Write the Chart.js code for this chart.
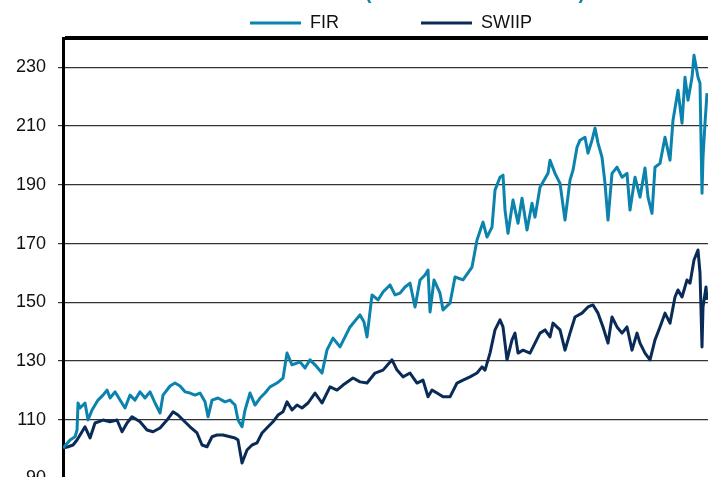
<!DOCTYPE html>
<html>
<head>
<meta charset="utf-8">
<script src="https://cdn.jsdelivr.net/npm/chart.js@4.4.1/dist/chart.umd.min.js"></script>
<style>
  html, body { margin: 0; padding: 0; background: #fff; width: 708px; height: 477px; overflow: hidden; position: relative; }
  #wrap { position: absolute; left: 0; top: -68px; width: 778px; height: 628px; }
  #title { position: absolute; left: 475px; top: -17.7px; transform: translateX(-50%); white-space: nowrap;
           font: bold 19.5px "Liberation Sans", Arial, sans-serif; line-height: 20px; color: #0b83ad; z-index: 2; }
</style>
</head>
<body>
<div id="title">(rebased to 100 at start)</div>
<div id="wrap"><canvas id="c"></canvas></div>
<script>
// Time index (trading periods since start) and index values
const seriesNames = ['FIR', 'SWIIP'];
const yTicks = [70, 90, 110, 130, 150, 170, 190, 210, 230, 240];

const firT = [0,7,12,14,15,17,22,25,29,35,40,44,47,52,57,62,67,72,77,82,87,92,97,100,107,112,117,122,127,132,
  137,142,145,149,155,162,167,172,175,179,182,187,192,197,202,207,214,220,224,229,237,242,247,252,259,264,270,277,287,297,
  301,304,309,315,320,327,332,337,342,347,352,357,362,365,367,371,377,380,387,392,400,409,414,420,424,429,432,437,440,442,
  445,450,455,459,464,469,472,477,485,487,492,497,502,507,510,514,517,522,525,529,532,535,539,542,545,549,554,559,564,567,
  572,577,582,585,589,592,597,602,607,610,615,619,622,625,629,631,635,637,639,640,642,644];
const firV = [100.4,103.1,104.2,106.5,115.7,114.0,115.7,109.9,113.3,116.7,118.4,120.1,117.4,119.5,116.7,114.0,118.4,116.7,119.5,117.4,
  119.5,115.7,112.3,118.4,121.5,122.5,121.5,119.5,119.1,118.4,119.1,116.1,111.0,116.7,117.4,116.1,116.7,115.0,109.9,107.6,
  113.3,119.1,115.0,117.4,119.1,121.2,122.5,124.2,132.7,128.7,129.7,127.6,130.4,128.7,125.9,133.8,137.8,134.8,141.6,145.7,
  143.3,138.2,152.5,150.8,153.5,155.9,152.5,153.1,155.2,156.5,148.4,157.6,159.3,161.0,146.7,157.6,153.1,147.4,149.7,158.6,
  157.6,162.0,171.2,177.3,172.2,175.6,188.2,192.6,193.3,181.4,173.5,184.8,176.9,185.4,174.6,183.7,179.0,189.2,193.9,198.4,
  193.9,190.5,178.0,191.6,195.0,202.8,205.2,206.2,200.8,205.2,209.3,204.2,199.4,190.5,178.0,193.9,196.0,192.6,193.9,181.4,
  192.6,185.8,195.7,185.8,180.3,196.0,197.3,206.2,198.4,212.0,222.2,211.0,226.6,218.8,226.6,234.1,226.6,224.6,187.1,199.4,
  211.0,221.2];

const swiT = [0,5,10,14,22,27,32,40,47,54,59,64,69,77,84,90,97,104,110,115,120,127,134,139,144,149,154,160,167,172,
  175,179,184,189,194,199,205,210,215,220,224,229,234,239,245,252,259,267,274,280,290,297,304,312,320,329,334,340,347,354,
  360,365,369,374,380,387,394,400,407,414,419,422,427,432,437,440,444,449,452,455,460,467,472,477,482,487,490,497,502,507,
  512,519,525,530,535,540,545,549,554,559,564,569,574,577,582,587,592,597,602,607,612,615,619,624,627,631,635,637,639,640,
  643,644];
const swiV = [100.4,100.8,101.4,103.1,107.6,103.8,108.9,109.9,109.3,109.9,105.9,108.9,111.0,109.3,106.5,105.9,107.2,109.9,112.7,111.6,
  109.9,107.6,105.5,101.4,100.8,104.2,104.8,104.8,104.2,103.8,103.1,95.3,99.7,101.4,102.1,105.5,107.6,109.3,111.6,112.7,
  116.1,113.3,115.0,114.0,115.7,119.1,115.7,121.2,120.1,121.8,124.2,122.9,122.5,125.9,126.9,130.4,126.9,124.6,125.9,122.5,
  123.5,117.8,120.1,119.1,117.8,117.8,122.5,123.5,124.6,125.9,128.0,126.9,132.7,140.6,144.0,141.6,130.4,137.2,139.5,132.7,
  133.7,132.7,136.1,139.5,140.6,138.2,142.9,140.6,133.7,139.5,145.0,146.3,148.4,149.1,146.3,141.6,136.1,145.0,141.6,139.5,
  141.6,133.7,139.5,136.1,132.7,130.4,137.2,141.6,146.3,142.9,151.8,154.2,151.8,157.6,156.5,164.4,167.8,160.0,134.8,148.4,
  155.2,150.8];

const FONT = '"Liberation Sans", Arial, sans-serif';
const colors = ['#0b83ad', '#0a2b57'];

const toPts = (ts, vs) => ts.map((t, i) => ({ x: t, y: vs[i] }));

new Chart(document.getElementById('c'), {
  type: 'line',
  data: {
    datasets: [
      { label: seriesNames[0], data: toPts(firT, firV), borderColor: colors[0], backgroundColor: colors[0],
        borderWidth: 3, pointRadius: 0, tension: 0, borderJoinStyle: 'round' },
      { label: seriesNames[1], data: toPts(swiT, swiV), borderColor: colors[1], backgroundColor: colors[1],
        borderWidth: 3, pointRadius: 0, tension: 0, borderJoinStyle: 'round' }
    ]
  },
  options: {
    responsive: true,
    maintainAspectRatio: false,
    animation: false,
    layout: { padding: { left: 4, right: 0, top: 0, bottom: 0 } },
    plugins: {
      title: { display: false },
      tooltip: { enabled: false },
      legend: {
        display: true,
        position: 'top',
        maxHeight: 106,
        labels: {
          boxWidth: 51,
          boxHeight: 3,
          padding: 82,
          color: '#111',
          font: { family: FONT, size: 18 },
          generateLabels: (chart) => Chart.defaults.plugins.legend.labels.generateLabels(chart)
            .map(l => Object.assign({}, l, { lineWidth: 0, fillStyle: l.strokeStyle }))
        }
      }
    },
    scales: {
      x: { type: 'linear', min: 0, max: 715, display: false },
      y: {
        min: 70,
        max: 240,
        afterBuildTicks: (axis) => { axis.ticks = yTicks.map(v => ({ value: v })); },
        border: { display: true, color: '#000', width: 3 },
        grid: {
          color: (c) => c.tick && c.tick.value === 240 ? '#000' : '#333',
          lineWidth: (c) => c.tick && c.tick.value === 240 ? 4 : 1.2,
          tickColor: (c) => c.tick && c.tick.value === 240 ? 'rgba(0,0,0,0)' : '#333',
          tickLength: 5,
          drawTicks: true
        },
        ticks: {
          padding: 12,
          color: '#111',
          font: { family: FONT, size: 18 },
          callback: (v) => v === 240 ? '' : String(v)
        }
      }
    }
  }
});
</script>
</body>
</html>
